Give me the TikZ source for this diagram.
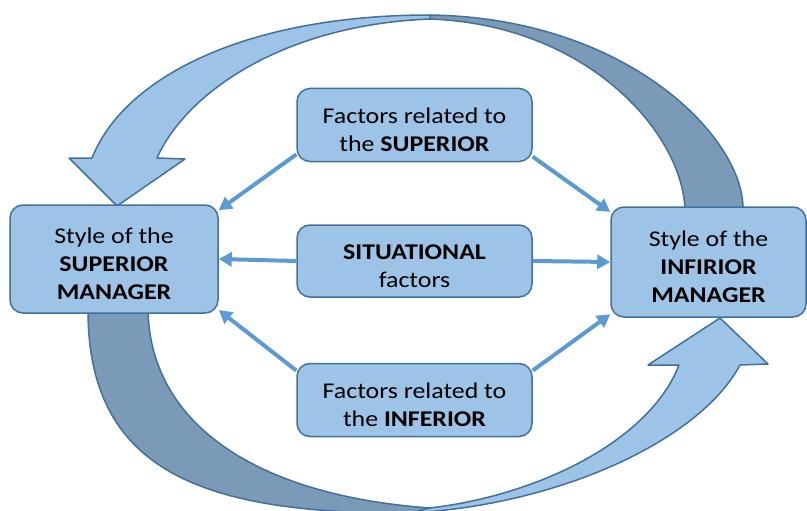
\documentclass[tikz,border=0pt]{standalone}
\usepackage{fontspec}
\setmainfont[FakeStretch=1.15]{Carlito}
\usetikzlibrary{arrows.meta}
\definecolor{boxblue}{HTML}{9DC3E6}
\definecolor{edgeblue}{HTML}{41719C}
\definecolor{backblue}{HTML}{7A9AB8}
\definecolor{linkblue}{HTML}{5B9BD5}
\begin{document}
\begin{tikzpicture}[x=1pt,y=-1pt]
% font of the box texts
\def\fs{\fontsize{22.5}{28}\selectfont}
% strut that lowers the text a little
\def\tp{\rule{0pt}{25pt}}
% node style definition
\tikzstyle{block} = [
	draw=edgeblue, fill=boxblue, line width=1.5pt,
	rounded corners=13pt, align=center, font=\fs, inner sep=0pt ];
\tikzstyle{side} = [block, minimum height=108pt];
\tikzstyle{factor} = [block, minimum width=235pt, minimum height=73pt];
\tikzstyle{link} = [linkblue, line width=4pt, -{Triangle[length=13pt,width=14pt]}];
\tikzstyle{band} = [draw=edgeblue, line width=1.5pt, line join=round];

\clip (0,0) rectangle (807,511);

% upper curved arrow (back half, then front half with head)
\path[band, fill=backblue] (430,15) .. controls (630,18) and (745,140) .. (743,210)
	-- (685,210) .. controls (683,135) and (590,25) .. (430,19) -- cycle;
\path[band, fill=boxblue] (430,15) .. controls (250,15) and (125,75) .. (92,158)
	-- (69,158) -- (117,206) -- (185,159) -- (157,158)
	.. controls (185,95) and (280,25) .. (430,19) -- cycle;

% lower curved arrow
\path[band, fill=backblue] (88,310) .. controls (88,470) and (200,515) .. (415,513)
	-- (430,508) .. controls (250,495) and (150,420) .. (148,310) -- cycle;
\path[band, fill=boxblue] (410,513) .. controls (560,505) and (700,440) .. (740,365)
	-- (768,364) -- (720,318) -- (648,365) -- (679,365)
	.. controls (650,440) and (540,495) .. (430,508) -- cycle;

% boxes
\node[side, minimum width=208pt] (supman) at (114,259) {\tp Style of the\\\textbf{SUPERIOR}\\\textbf{MANAGER}};
\node[side, minimum width=195pt, minimum height=110pt] (infman) at (708.5,262) {\tp Style of the\\\textbf{INFIRIOR}\\\textbf{MANAGER}};
\node[factor] (supf) at (414.5,125) {\tp Factors related to\\the \textbf{SUPERIOR}};
\node[factor, minimum height=72pt] (sitf) at (414.5,261) {\tp\textbf{SITUATIONAL}\\factors};
\node[factor] (inff) at (414.5,400) {\tp Factors related to\\the \textbf{INFERIOR}};

% influences
\draw[link] (supf.194) -- (supman.25);
\draw[link] (supf.345) -- (infman.153);
\draw[link] (sitf.west) -- (supman.east);
\draw[link] (sitf.east) -- (infman.west);
\draw[link] (inff.166) -- (supman.334);
\draw[link] (inff.14) -- (infman.208);
\end{tikzpicture}
\end{document}
